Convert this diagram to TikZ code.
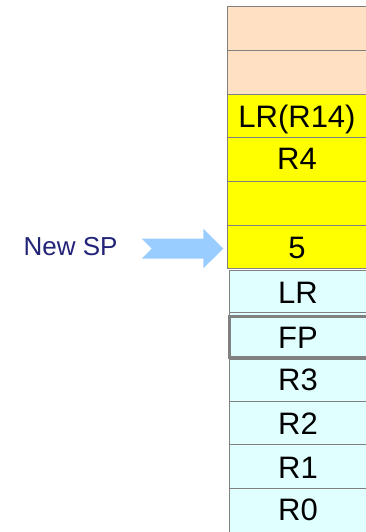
\documentclass[tikz,border=0pt]{standalone}
\usepackage{fontspec}
\setmainfont{Liberation Sans}
\definecolor{peach}{RGB}{255,224,194}
\definecolor{stackyellow}{RGB}{255,255,0}
\definecolor{stackcyan}{RGB}{224,255,255}
\definecolor{cellborder}{RGB}{128,128,128}
\definecolor{arrowblue}{RGB}{153,204,255}
\definecolor{navy}{RGB}{35,35,120}
\tikzset{
  cell/.style={draw=cellborder, line width=0.9pt},
  celltext/.style={font=\fontsize{31}{34}\selectfont, text=black, inner sep=0pt, anchor=base},
}
\begin{document}
\begin{tikzpicture}[x=1pt,y=-1pt]
\useasboundingbox (0,0) rectangle (365,532);
% upper column
\foreach \t/\b/\c/\n in {6.7/50.7/peach/p1, 50.7/94.3/peach/p2, 94.3/137.7/stackyellow/y1, 137.7/181.7/stackyellow/y2, 181.7/225.3/stackyellow/y3, 225.3/268.7/stackyellow/y4}{
  \draw[cell, fill=\c] (227.3,\t) rectangle (368,\b);
}
% lower column
\foreach \t/\b/\n in {270.7/312.7/c1, 312.7/359.3/c2, 359.3/401.7/c3, 401.7/444.3/c4, 444.3/488.7/c5, 488.7/534/c6}{
  \draw[cell, fill=stackcyan] (229.3,\t) rectangle (368,\b);
}
\draw[draw=cellborder, line width=2.6pt] (229.6,316.3) rectangle (370,357.6);
% labels
\node[celltext] (ty1) at (297,128) {LR(R14)};
\node[celltext] (ty2) at (297,169) {R4};
\node[celltext] (ty4) at (297,258.3) {5};
\node[celltext] (tc1) at (298,303.3) {LR};
\node[celltext] (tc2) at (298,348.3) {FP};
\node[celltext] (tc3) at (298,390) {R3};
\node[celltext] (tc4) at (298,434) {R2};
\node[celltext] (tc5) at (298,478.3) {R1};
\node[celltext] (tc6) at (298,520) {R0};
% arrow
\coordinate (tip) at (223.3,248.7);
\fill[arrowblue] (141.7,238.7) -- (203.3,238.7) -- (203.3,228.7) -- (tip) -- (203.3,268.3) -- (203.3,258.7) -- (141.7,258.7) -- (151.7,248.7) -- cycle;
\node[anchor=west, inner sep=0pt, text=navy, font=\fontsize{26}{30}\selectfont] (sp) at (23.5,246.8) {New SP};
\end{tikzpicture}
\end{document}
